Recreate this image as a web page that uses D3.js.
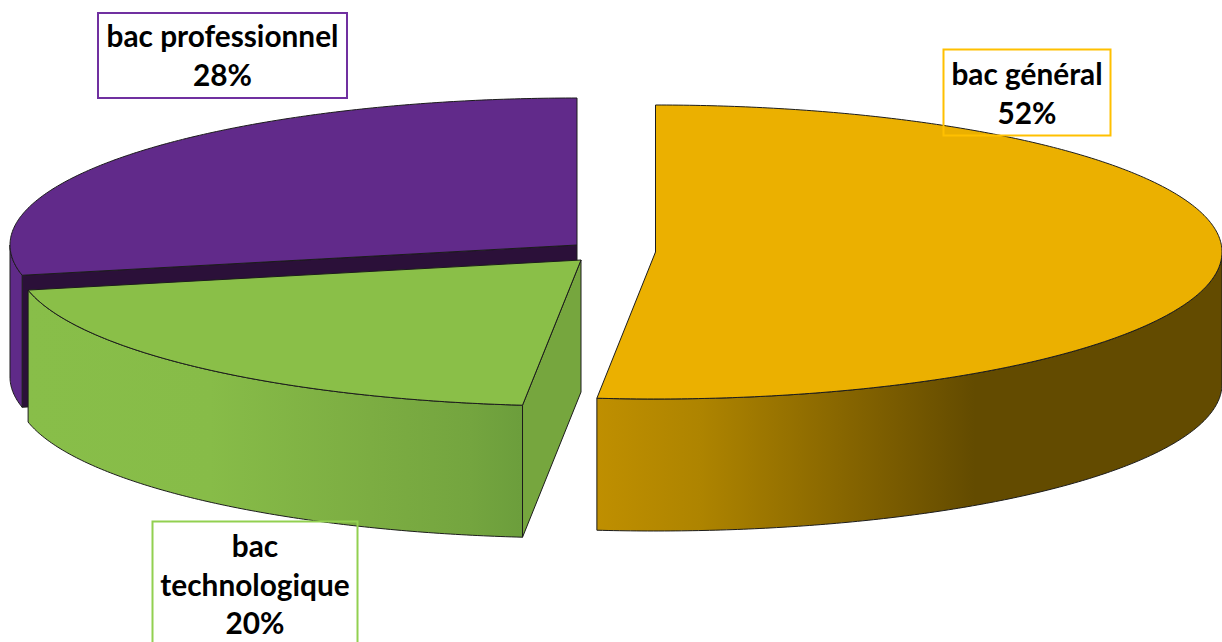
<!DOCTYPE html>
<html>
<head>
<meta charset="utf-8">
<script src="https://cdn.jsdelivr.net/npm/d3@7"></script>
<style>
	html, body { margin: 0; padding: 0; background: #fff; overflow: hidden; }
	text { font-family: Lato, "Open Sans", sans-serif; font-weight: 700; font-size: 29.8px; fill: #000; text-anchor: middle; }
</style>
</head>
<body>
<svg id="chart" width="1222" height="642"></svg>
<script>
// data
var categories = ["bac général", "bac technologique", "bac professionnel"];
var shares = [51.65, 20.05, 28.3];

// label lines, one sublist per category
var labelLines = [["bac général"], ["bac", "technologique"], ["bac professionnel"]];

// layout of the exploded slices
var centers = [[655.5, 252], [581, 260], [577, 245]];
var radii = [[566.5, 147], [565, 146], [567, 147]];
var depth = 132;
var boxes = [
	{ x: 943.5, y: 49.5, w: 167, h: 86, first: 85 },
	{ x: 152.5, y: 521.5, w: 205, h: 140, first: 557 },
	{ x: 98, y: 13, w: 249, h: 85, first: 47 }
];
var lineStep = 38.5;

// colours
var topColors = ["#ebb000", "#8abf48", "#612a8a"];
var boxColors = ["#ffc000", "#92d050", "#7030a0"];
var wallColors = [null, "#76a63e", "#2b1039"];
var sideBands = [
	[[597, "#bf8f00"], [700, "#ae8400"], [800, "#936f00"], [880, "#7d5e00"], [975, "#634b00"], [1222, "#634b00"]],
	[[26, "#88be49"], [210, "#87bc48"], [370, "#7cad42"], [470, "#74a53f"], [521, "#6c9e3c"]],
	[[10, "#5f2a88"], [30, "#5f2a88"]]
];

var svg = d3.select("#chart");
var defs = svg.append("defs");

var pie = d3.pie().sort(null).startAngle(0).endAngle(2 * Math.PI);
var slices = pie(shares);

var line = d3.line().x(function(d) { return d[0]; }).y(function(d) { return d[1]; });

// projection of the unit circle on the tilted ellipse of slice i
function projector(i) {
	var x = d3.scaleLinear().domain([-1, 1]).range([centers[i][0] - radii[i][0], centers[i][0] + radii[i][0]]);
	var y = d3.scaleLinear().domain([-1, 1]).range([centers[i][1] - radii[i][1], centers[i][1] + radii[i][1]]);
	return function(a, dz) {
		return [x(Math.sin(a)), y(-Math.cos(a)) + (dz || 0)];
	};
}

function arcPoints(p, a0, a1, dz) {
	var n = Math.ceil(Math.abs(a1 - a0) / 0.01);
	return d3.range(n + 1).map(function(k) {
		return p(a0 + (a1 - a0) * k / n, dz);
	});
}

sideBands.forEach(function(bands, i) {
	var x0 = bands[0][0], x1 = bands[bands.length - 1][0];
	var grad = defs.append("linearGradient")
		.attr("id", "side" + i)
		.attr("gradientUnits", "userSpaceOnUse")
		.attr("x1", x0).attr("x2", x1).attr("y1", 0).attr("y2", 0);
	bands.forEach(function(b) {
		grad.append("stop")
			.attr("offset", (b[0] - x0) / (x1 - x0))
			.attr("stop-color", b[1]);
	});
});

var outline = "#1c1c1c";

// painter's order: purple at the back, then yellow, then green
[2, 0, 1].forEach(function(i) {
	var s = slices[i];
	var p = projector(i);
	var center = [centers[i][0], centers[i][1]];
	var g = svg.append("g").attr("class", "slice").datum(s);

	// radial wall at the end of the slice (purple), seen from the front
	if (i === 2) {
		var c = p(s.startAngle);
		g.append("path")
			.attr("d", line([center, c, [c[0], c[1] + depth], [center[0], center[1] + depth]]) + "Z")
			.attr("fill", wallColors[i]).attr("stroke", outline);
	}

	// outer rim, front half of the ellipse only
	var rim0 = Math.max(s.startAngle, Math.PI / 2);
	var rim1 = Math.min(s.endAngle, 3 * Math.PI / 2);
	var rim = arcPoints(p, rim0, rim1, 0).concat(arcPoints(p, rim1, rim0, depth));
	g.append("path")
		.attr("d", line(rim) + "Z")
		.attr("fill", "url(#side" + i + ")").attr("stroke", outline);

	// radial wall at the start of the slice (green), facing right
	if (i === 1) {
		var e = p(s.startAngle);
		g.append("path")
			.attr("d", line([center, e, [e[0], e[1] + depth], [center[0], center[1] + depth]]) + "Z")
			.attr("fill", wallColors[i]).attr("stroke", outline);
	}

	// top face
	var face = [center].concat(arcPoints(p, s.startAngle, s.endAngle, 0));
	g.append("path")
		.attr("d", line(face) + "Z")
		.attr("fill", topColors[i]).attr("stroke", outline);
});

// label boxes, no fill: the pie shows through
categories.forEach(function(name, i) {
	var b = boxes[i];
	var g = svg.append("g").attr("class", "label");
	g.append("rect")
		.attr("x", b.x).attr("y", b.y).attr("width", b.w).attr("height", b.h)
		.attr("fill", "none").attr("stroke", boxColors[i]).attr("stroke-width", 2);
	labelLines[i].concat([Math.round(shares[i]) + "%"]).forEach(function(t, k) {
		g.append("text")
			.attr("x", b.x + b.w / 2)
			.attr("y", b.first + k * lineStep)
			.text(t);
	});
});
</script>
</body>
</html>
